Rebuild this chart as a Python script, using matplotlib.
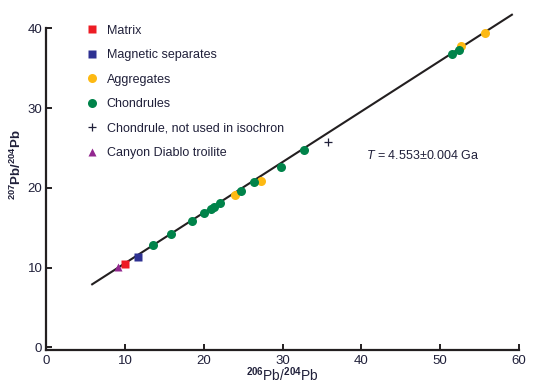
import matplotlib
matplotlib.use("Agg")
import matplotlib.pyplot as plt
from matplotlib.lines import Line2D

plt.rcParams['font.family'] = ['Liberation Sans', 'DejaVu Sans']
plt.rcParams['mathtext.fontset'] = 'custom'
plt.rcParams['mathtext.rm'] = 'Liberation Sans'
plt.rcParams['mathtext.it'] = 'Liberation Sans:italic'
plt.rcParams['mathtext.bf'] = 'Liberation Sans:bold'

# ---- data ----
matrix_x = [9.97]
matrix_y = [10.5]
magnetic_x = [11.6]
magnetic_y = [11.33]
aggregates_x = [24.0, 27.2, 52.6, 55.7]
aggregates_y = [19.07, 20.9, 37.8, 39.44]
chondrules_x = [13.5, 15.8, 18.5, 20.0, 20.85, 21.3, 22.0, 24.7, 26.4, 29.8, 32.7, 51.5, 52.4]
chondrules_y = [12.85, 14.26, 15.85, 16.9, 17.35, 17.6, 18.1, 19.6, 20.75, 22.6, 24.7, 36.76, 37.3]
excluded_x = [35.7]
excluded_y = [25.76]
troilite_x = [9.12]
troilite_y = [10.07]
isochron_x = [5.8, 59.1]
isochron_y = [7.9, 41.7]

legend_labels = ["Matrix", "Magnetic separates", "Aggregates", "Chondrules",
                 "Chondrule, not used in isochron", "Canyon Diablo troilite"]
xticks = [0, 10, 20, 30, 40, 50, 60]
yticks = [0, 10, 20, 30, 40]
age_text = r"$T$ = 4.553±0.004 Ga"

# colours
c_red = '#ed1c24'
c_blue = '#2e3192'
c_yellow = '#fdb913'
c_green = '#00834a'
c_purple = '#92278f'
c_text = '#20203a'
c_axis = '#231f20'

fig = plt.figure(figsize=(5.47, 3.89), dpi=100)
ax = fig.add_axes([0.085, 0.101, 0.8638, 0.8263])

ax.plot(isochron_x, isochron_y, color=c_axis, lw=1.5, zorder=1, clip_on=False)

ax.plot(troilite_x, troilite_y, ls='none', marker='^', ms=6, color=c_purple, mec='none', zorder=3)
ax.plot(matrix_x, matrix_y, ls='none', marker='s', ms=6, color=c_red, mec='none', zorder=3)
ax.plot(magnetic_x, magnetic_y, ls='none', marker='s', ms=6, color=c_blue, mec='none', zorder=3)
ax.plot(aggregates_x, aggregates_y, ls='none', marker='o', ms=6.5, color=c_yellow, mec='none',
        zorder=3, clip_on=False)
ax.plot(chondrules_x, chondrules_y, ls='none', marker='o', ms=6.5, color=c_green, mec='none', zorder=4)
ax.plot(excluded_x, excluded_y, ls='none', marker='+', ms=6, mew=0.9, color=c_text, zorder=3)

ax.set_xlim(0, 60)
ax.set_ylim(-0.3, 40)
ax.set_xticks(xticks)
ax.set_yticks(yticks)
for s in ['top', 'right']:
    ax.spines[s].set_visible(False)
for s in ['left', 'bottom']:
    ax.spines[s].set_linewidth(1.6)
    ax.spines[s].set_color(c_axis)
    ax.spines[s].set_capstyle('projecting')
ax.tick_params(direction='in', length=4, width=1.4, color=c_axis,
               labelsize=9.5, labelcolor=c_text)
ax.tick_params(axis='x', pad=4)
ax.tick_params(axis='y', pad=3)

ax.set_xlabel(r"$^{\mathbf{206}}$Pb/$^{\mathbf{204}}$Pb", fontsize=10, color=c_text)
ax.set_ylabel(r"$^{\mathbf{207}}$Pb/$^{\mathbf{204}}$Pb", fontsize=9.5, color=c_text, fontweight='bold')
ax.xaxis.set_label_coords(0.50, -0.05)
ax.yaxis.set_label_coords(-0.047, 0.575)

fig.text(366 / 547, 1 - 155 / 389, age_text, fontsize=9, color=c_text, va='center', ha='left')

handles = [
    Line2D([], [], ls='none', marker='s', ms=5.5, color=c_red, mec='none'),
    Line2D([], [], ls='none', marker='s', ms=5.5, color=c_blue, mec='none'),
    Line2D([], [], ls='none', marker='o', ms=6.5, color=c_yellow, mec='none'),
    Line2D([], [], ls='none', marker='o', ms=6.5, color=c_green, mec='none'),
    Line2D([], [], ls='none', marker='+', ms=6, mew=0.9, color=c_text),
    Line2D([], [], ls='none', marker='^', ms=6, color=c_purple, mec='none'),
]
leg = ax.legend(handles, legend_labels, loc='upper left',
                bbox_to_anchor=(85.4 / 547, 1 - 24.5 / 389), bbox_transform=fig.transFigure,
                frameon=False, fontsize=9, handlelength=1.0, handletextpad=0.7,
                labelspacing=1.0, borderpad=0, borderaxespad=0)
for t in leg.get_texts():
    t.set_color(c_text)

fig.savefig('out.png', dpi=100)
